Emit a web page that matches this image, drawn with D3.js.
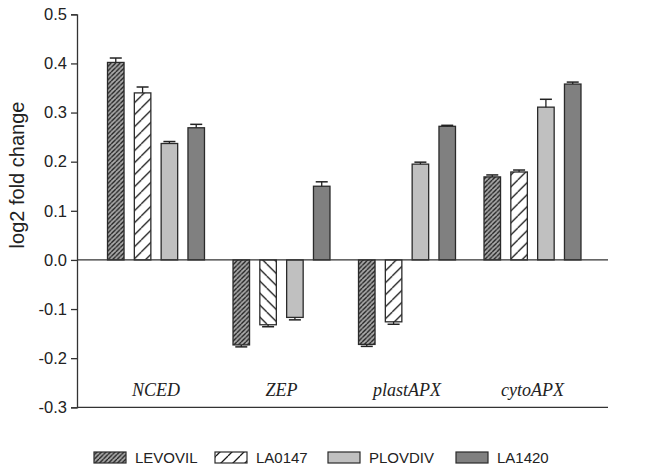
<!DOCTYPE html>
<html lang="en">
<head>
<meta charset="UTF-8">
<title>log2 fold change by gene</title>
<script src="https://cdnjs.cloudflare.com/ajax/libs/d3/7.8.5/d3.min.js"></script>
<style>
    body { margin: 0; background: #fff; }
    svg { display: block; }
    .tick-label { font-family: "Liberation Sans", Arial, sans-serif; font-size: 16.5px; fill: #222; }
    .gene { font-family: "Liberation Serif", "Times New Roman", serif; font-style: italic; font-size: 18px; fill: #222; }
    .legend-text { font-family: "Liberation Sans", Arial, sans-serif; font-size: 15px; fill: #222; }
</style>
</head>
<body>
<div id="chart"></div>
<script>
// data
const genes = ["NCED", "ZEP", "plastAPX", "cytoAPX"];
const lines = ["LEVOVIL", "LA0147", "PLOVDIV", "LA1420"];
const levovil = [0.402, -0.173, -0.172, 0.169];
const la0147  = [0.340, -0.132, -0.126, 0.179];
const plovdiv = [0.237, -0.117, 0.195, 0.311];
const la1420  = [0.269, 0.150, 0.272, 0.358];
const errLevovil = [0.009, 0.004, 0.004, 0.004];
const errLa0147  = [0.012, 0.004, 0.005, 0.004];
const errPlovdiv = [0.004, 0.005, 0.004, 0.016];
const errLa1420  = [0.007, 0.009, 0.002, 0.004];
const yTicks = [0.5, 0.4, 0.3, 0.2, 0.1, 0.0, -0.1, -0.2, -0.3];

const values = [levovil, la0147, plovdiv, la1420];
const errors = [errLevovil, errLa0147, errPlovdiv, errLa1420];

const W = 646, H = 476;
const svg = d3.select("#chart").append("svg").attr("width", W).attr("height", H);

// hatch patterns
const defs = svg.append("defs");
function hatch(id, size, bg, flip) {
    const p = defs.append("pattern")
        .attr("id", id)
        .attr("patternUnits", "userSpaceOnUse")
        .attr("width", size).attr("height", size);
    p.append("rect").attr("width", size).attr("height", size).attr("fill", bg);
    const d = flip
        ? `M0,0 L${size},${size} M${-size},0 L0,${size} M${size},0 L${2*size},${size}`
        : `M0,${size} L${size},0 M${-size},${size} L0,0 M${size},${size} L${2*size},0`;
    p.append("path").attr("d", d).attr("stroke", "#1a1a1a").attr("stroke-width", 1.3);
}
hatch("h-levovil", 4.5, "#a9a9a9", false);
hatch("h-la0147", 12, "#ffffff", false);
hatch("h-la0147-b", 12, "#ffffff", true);

function fillFor(s, g) {
    if (s === 0) return "url(#h-levovil)";
    if (s === 1) return g === 1 ? "url(#h-la0147-b)" : "url(#h-la0147)";
    if (s === 2) return "#c0c0c0";
    return "#808080";
}

const x0 = d3.scaleBand().domain(genes).range([93.25, 595.25]);
const x1 = d3.scaleBand().domain(d3.range(lines.length)).range([0, x0.bandwidth()])
    .paddingInner(0.384).paddingOuter(0.532);
const y = d3.scaleLinear().domain([-0.3, 0.5]).range([407.3, 14.3]);

const axisLeft = 77, axisRight = 608;

// bars
genes.forEach((g, gi) => {
    const grp = svg.append("g").attr("transform", `translate(${x0(g)},0)`);
    values.forEach((vals, si) => {
        const v = vals[gi], e = errors[si][gi];
        const bx = x1(si), bw = x1.bandwidth();
        grp.append("rect")
            .attr("x", bx).attr("width", bw)
            .attr("y", y(Math.max(0, v)))
            .attr("height", Math.abs(y(v) - y(0)))
            .attr("fill", fillFor(si, gi))
            .attr("stroke", "#2a2a2a").attr("stroke-width", 1.3);
        const cx = bx + bw / 2;
        const tip = v >= 0 ? v + e : v - e;
        grp.append("line")
            .attr("x1", cx).attr("x2", cx).attr("y1", y(v)).attr("y2", y(tip))
            .attr("stroke", "#222").attr("stroke-width", 1.3);
        grp.append("line")
            .attr("x1", cx - 6).attr("x2", cx + 6).attr("y1", y(tip)).attr("y2", y(tip))
            .attr("stroke", "#222").attr("stroke-width", 1.5);
    });
});

// zero line and bottom line
svg.append("line").attr("x1", axisLeft).attr("x2", axisRight)
    .attr("y1", y(0)).attr("y2", y(0)).attr("stroke", "#333").attr("stroke-width", 1.3);
svg.append("line").attr("x1", axisLeft).attr("x2", axisRight)
    .attr("y1", y(-0.3)).attr("y2", y(-0.3)).attr("stroke", "#333").attr("stroke-width", 1.3);

// y axis
const yAxis = svg.append("g").attr("transform", `translate(${axisLeft},0)`)
    .call(d3.axisLeft(y).tickValues(yTicks).tickFormat(d => d.toFixed(1)).tickSize(6).tickPadding(4));
yAxis.select(".domain").attr("stroke", "#333").attr("stroke-width", 1.3);
yAxis.selectAll(".tick line").attr("stroke", "#333").attr("stroke-width", 1.3);
yAxis.selectAll(".tick text").attr("class", "tick-label").attr("fill", null);

svg.append("text")
    .attr("transform", "translate(24,175) rotate(-90)")
    .attr("text-anchor", "middle")
    .attr("font-family", "Liberation Sans, Arial, sans-serif")
    .attr("font-size", 20).attr("fill", "#222")
    .text("log2 fold change");

// gene labels
genes.forEach(g => {
    svg.append("text").attr("class", "gene")
        .attr("x", x0(g) + x0.bandwidth() / 2).attr("y", 396)
        .attr("text-anchor", "middle").text(g);
});

// legend
const legendX = [94, 215, 328, 456];
const legend = svg.append("g");
lines.forEach((name, i) => {
    legend.append("rect")
        .attr("x", legendX[i]).attr("y", 452).attr("width", 32).attr("height", 11)
        .attr("fill", fillFor(i, 0)).attr("stroke", "#2a2a2a").attr("stroke-width", 1.2);
    legend.append("text").attr("class", "legend-text")
        .attr("x", legendX[i] + 41).attr("y", 463).text(name);
});
</script>
</body>
</html>
